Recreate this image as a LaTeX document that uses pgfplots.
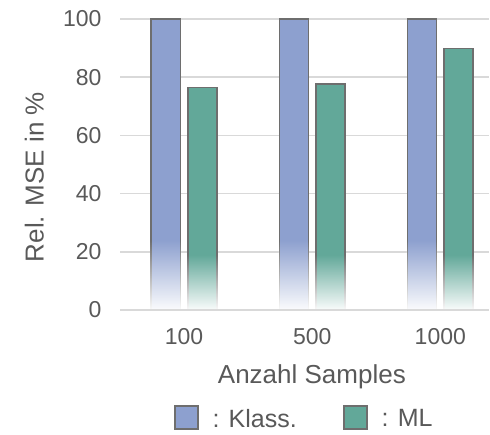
\documentclass[border=0pt]{standalone}
\usepackage{pgfplots}
\pgfplotsset{compat=1.18}
\usetikzlibrary{fadings}
\usepackage{fontspec}
\setmainfont{Liberation Sans}
\definecolor{cblue}{RGB}{141,160,207}
\definecolor{cgreen}{RGB}{98,168,153}
\definecolor{cedge}{RGB}{110,110,110}
\definecolor{ctext}{RGB}{89,89,89}
\definecolor{cgrid}{RGB}{217,217,217}
\tikzfading[name=fadeup, top color=transparent!100, middle color=transparent!40, bottom color=transparent!3]
\begin{document}
\begin{tikzpicture}[x=1pt,y=1pt]
\path[use as bounding box] (0,0) rectangle (490,435);
\begin{axis}[
  at={(120pt,125pt)}, anchor=south west,
  scale only axis, width=369pt, height=291pt,
  xmin=-0.5, xmax=2.38, ymin=0, ymax=100,
  xtick={0,1,2}, xticklabels={100,500,1000},
  ytick={0,20,40,60,80,100},
  axis line style={draw=none},
  tick style={draw=none},
  major tick length=0pt,
  ymajorgrids, grid style={cgrid, line width=1.5pt},
  ybar, bar width=0.227,
  /pgf/number format/assume math mode=true,
  ticklabel style={font=\fontsize{23}{27}\selectfont, text=ctext},
  yticklabel style={xshift=-15pt},
  xticklabel style={yshift=-15pt},
  xlabel={Anzahl Samples},
  ylabel={Rel. MSE in \%},
  label style={font=\fontsize{26}{30}\selectfont, text=ctext},
  xlabel style={at={(axis description cs:0.52,-0.23)}, anchor=center},
  ylabel style={at={(axis description cs:-0.232,0.457)}, anchor=center, rotate=0},
  legend columns=2,
  legend style={at={(axis description cs:0.499,-0.371)}, anchor=center, draw=none,
    font=\fontsize{25}{30}\selectfont, text=ctext,
    /tikz/every odd column/.append style={column sep=12pt},
    /tikz/every even column/.append style={column sep=44pt}},
  legend image code/.code={\draw[#1, line width=1.8pt, draw=cedge] (0pt,-10pt) rectangle (23pt,13pt);},
]
% solid bars
\addplot[fill=cblue, draw=cedge, line width=1.5pt, bar shift=-0.143] coordinates {(0,100) (1,100) (2,100)};
\addlegendentry{: Klass.}
\addplot[fill=cgreen, draw=cedge, line width=1.5pt, bar shift=0.143] coordinates {(0,76.4) (1,77.7) (2,89.9)};
\addlegendentry{: ML}
% fading bottom parts (white overlay that fades upwards)
\addplot[forget plot, draw=none, fill=white, path fading=fadeup, bar width=0.245, bar shift=-0.143] coordinates {(0,24) (1,24) (2,24)};
\addplot[forget plot, draw=none, fill=white, path fading=fadeup, bar width=0.245, bar shift=0.143] coordinates {(0,19) (1,19) (2,19)};
\draw[cgrid, line width=1.5pt] (axis cs:-0.5,0) -- (axis cs:2.38,0);
\end{axis}
\end{tikzpicture}
\end{document}
